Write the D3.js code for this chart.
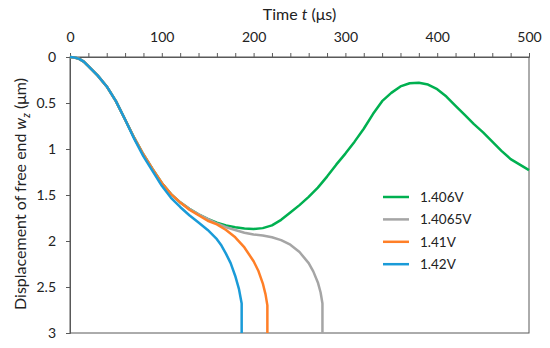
<!DOCTYPE html>
<html>
<head>
<meta charset="utf-8">
<script src="https://cdn.jsdelivr.net/npm/d3@7"></script>
<style>
  body { margin: 0; background: #fff; }
  svg { font-family: Lato, "Open Sans", sans-serif; }
</style>
</head>
<body>
<svg width="550" height="348"></svg>
<script>
// tick values
const xTicks = [0, 100, 200, 300, 400, 500]
const yTicks = [0, 0.5, 1, 1.5, 2, 2.5, 3]
const seriesNames = ['1.406V', '1.4065V', '1.41V', '1.42V']
const colors = ['#00b050', '#a5a5a5', '#ff7f27', '#1a9bd8']

// time (us) and displacement (um)
const t1406 = [0, 5, 10, 15, 20, 30, 40, 50, 60, 70, 80, 90, 100, 110, 120, 130, 140, 150, 160, 170, 180, 190, 200, 210, 220, 230, 240, 250, 260, 270, 280, 290, 300, 310, 320, 330, 340, 350, 360, 370, 380, 390, 400, 410, 420, 430, 440, 450, 460, 470, 480, 490, 500]
const w1406 = [0, 0.005, 0.02, 0.05, 0.1, 0.2, 0.32, 0.48, 0.68, 0.88, 1.06, 1.22, 1.37, 1.49, 1.58, 1.65, 1.71, 1.76, 1.8, 1.83, 1.85, 1.865, 1.87, 1.86, 1.83, 1.77, 1.69, 1.61, 1.52, 1.42, 1.3, 1.17, 1.05, 0.92, 0.78, 0.62, 0.48, 0.39, 0.32, 0.285, 0.28, 0.3, 0.35, 0.43, 0.53, 0.63, 0.73, 0.82, 0.92, 1.02, 1.11, 1.17, 1.23]

const t14065 = [0, 5, 10, 15, 20, 30, 40, 50, 60, 70, 80, 90, 100, 110, 120, 130, 140, 150, 160, 170, 180, 190, 200, 210, 220, 230, 240, 250, 260, 265, 270, 273, 275, 275]
const w14065 = [0, 0.005, 0.02, 0.05, 0.1, 0.2, 0.32, 0.48, 0.68, 0.88, 1.06, 1.22, 1.37, 1.49, 1.58, 1.65, 1.71, 1.76, 1.81, 1.85, 1.88, 1.91, 1.93, 1.94, 1.96, 1.99, 2.04, 2.12, 2.24, 2.33, 2.45, 2.56, 2.68, 3]

const t141 = [0, 5, 10, 15, 20, 30, 40, 50, 60, 70, 80, 90, 100, 110, 120, 130, 140, 150, 160, 170, 180, 190, 200, 205, 210, 213, 215, 215]
const w141 = [0, 0.005, 0.02, 0.05, 0.1, 0.2, 0.32, 0.48, 0.68, 0.88, 1.06, 1.22, 1.37, 1.49, 1.58, 1.66, 1.72, 1.78, 1.82, 1.88, 1.96, 2.07, 2.22, 2.32, 2.46, 2.58, 2.7, 3]

const t142 = [0, 5, 10, 15, 20, 30, 40, 50, 60, 70, 80, 90, 100, 110, 120, 130, 140, 150, 160, 165, 170, 175, 180, 184, 187, 187]
const w142 = [0, 0.005, 0.02, 0.05, 0.1, 0.2, 0.32, 0.48, 0.68, 0.89, 1.08, 1.24, 1.4, 1.53, 1.63, 1.72, 1.8, 1.88, 1.98, 2.05, 2.14, 2.24, 2.38, 2.52, 2.68, 3]

const series = [
  { name: seriesNames[0], t: t1406, w: w1406, color: colors[0] },
  { name: seriesNames[1], t: t14065, w: w14065, color: colors[1] },
  { name: seriesNames[2], t: t141, w: w141, color: colors[2] },
  { name: seriesNames[3], t: t142, w: w142, color: colors[3] }
]

const svg = d3.select('svg')
const mLeft = 70, mRight = 529, mTop = 57, mBottom = 333

const x = d3.scaleLinear().domain([0, 500]).range([mLeft, mRight])
const y = d3.scaleLinear().domain([0, 3]).range([mTop, mBottom])

const axisColor = '#595959'

// frame
svg.append('rect')
  .attr('x', mLeft).attr('y', mTop)
  .attr('width', mRight - mLeft).attr('height', mBottom - mTop)
  .attr('fill', 'none').attr('stroke', axisColor).attr('stroke-width', 1)

// top axis, minor ticks every 20
const xAxis = svg.append('g')
  .attr('transform', `translate(0,${mTop})`)
  .call(d3.axisTop(x).tickValues(d3.range(0, 501, 20)).tickSize(4)
    .tickFormat(d => xTicks.includes(d) ? d : ''))
xAxis.select('.domain').attr('stroke', axisColor)
xAxis.selectAll('line').attr('stroke', axisColor)
xAxis.selectAll('text').attr('font-size', 14).attr('fill', '#222')
  .attr('font-family', 'Lato, sans-serif').attr('dy', '-0.55em')

const yAxis = svg.append('g')
  .attr('transform', `translate(${mLeft},0)`)
  .call(d3.axisLeft(y).tickValues(yTicks).tickSize(4).tickPadding(10)
    .tickFormat(d => d))
yAxis.select('.domain').attr('stroke', axisColor)
yAxis.selectAll('line').attr('stroke', axisColor)
yAxis.selectAll('text').attr('font-size', 14).attr('fill', '#222')
  .attr('font-family', 'Lato, sans-serif')

// titles
const xt = svg.append('text')
  .attr('x', (mLeft + mRight) / 2).attr('y', 20)
  .attr('text-anchor', 'middle').attr('font-size', 16).attr('fill', '#222')
xt.append('tspan').text('Time ')
xt.append('tspan').attr('font-style', 'italic').text('t')
xt.append('tspan').text(' (μs)')

const yt = svg.append('text')
  .attr('transform', `translate(26,194) rotate(-90)`)
  .attr('text-anchor', 'middle').attr('font-size', 16).attr('fill', '#222')
yt.append('tspan').text('Displacement of free end ')
yt.append('tspan').attr('font-style', 'italic').text('w')
yt.append('tspan').attr('font-style', 'italic').attr('font-size', 11).attr('baseline-shift', '-4').text('z')
yt.append('tspan').text(' (μm)')

// lines
const line = d3.line()
  .x(d => x(d[0]))
  .y(d => y(d[1]))

svg.selectAll('path.series')
  .data(series)
  .enter()
  .append('path')
    .attr('class', 'series')
    .attr('d', s => line(s.t.map((v, i) => [v, s.w[i]])))
    .attr('fill', 'none')
    .attr('stroke', s => s.color)
    .attr('stroke-width', 2.5)
    .attr('stroke-linejoin', 'round')

// legend
const legend = svg.append('g')
  .selectAll('g')
  .data(series)
  .enter()
  .append('g')
    .attr('transform', (d, i) => `translate(383,${197 + i * 22.4})`)

legend.append('line')
  .attr('x1', 0).attr('x2', 26)
  .attr('stroke', d => d.color).attr('stroke-width', 2.5)

legend.append('text')
  .attr('x', 37).attr('dy', '0.35em')
  .attr('font-size', 13.5).attr('fill', '#222')
  .text(d => d.name)
</script>
</body>
</html>
